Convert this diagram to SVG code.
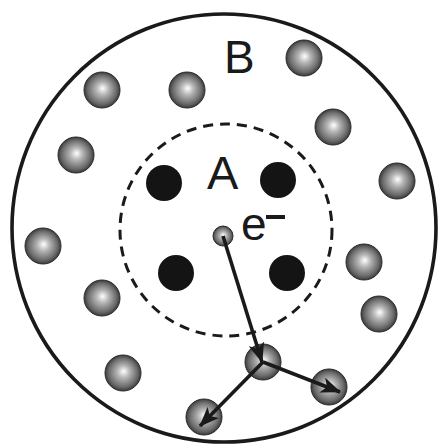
<svg xmlns="http://www.w3.org/2000/svg" width="438" height="447" viewBox="0 0 438 447">
<defs>
<radialGradient id="ball" cx="0.5" cy="0.5" r="0.5" fx="0.52" fy="0.45">
<stop offset="0" stop-color="#ffffff"/>
<stop offset="0.35" stop-color="#b4b4b4"/>
<stop offset="0.8" stop-color="#6a6a6a"/>
<stop offset="1" stop-color="#3c3c3c"/>
</radialGradient>
<marker id="arr" viewBox="0 0 20 16" refX="19" refY="8" markerWidth="20" markerHeight="16" markerUnits="userSpaceOnUse" orient="auto">
<path d="M0,0 L20,8 L0,16 L5,8 Z" fill="#1a1a1a"/>
</marker>
<style>
.ball{fill:url(#ball);stroke:#2a2a2a;stroke-width:1}
.dot{fill:#141414}
.lbl{font-family:"Liberation Sans",Arial,sans-serif;fill:#1a1a1a}
.con{stroke:#1a1a1a;stroke-width:3.6;fill:none}
</style>
</defs>
<g id="regionB">
<ellipse cx="224" cy="228" rx="212" ry="214" fill="none" stroke="#1a1a1a" stroke-width="3.6"/>
<text class="lbl" x="224" y="73" font-size="46">B</text>
</g>
<g id="regionA">
<circle cx="226" cy="230" r="106" fill="none" stroke="#1a1a1a" stroke-width="3" stroke-dasharray="10 7"/>
<text class="lbl" x="207" y="189" font-size="47">A</text>
</g>
<g id="ionsA">
<circle class="dot" cx="164" cy="183" r="18"/>
<circle class="dot" cx="278" cy="180" r="18"/>
<circle class="dot" cx="176" cy="273" r="18"/>
<circle class="dot" cx="287" cy="273" r="18"/>
</g>
<g id="atomsB">
<circle class="ball" cx="102" cy="90" r="18"/>
<circle class="ball" cx="187" cy="90" r="18"/>
<circle class="ball" cx="304" cy="58" r="18"/>
<circle class="ball" cx="333" cy="127" r="18"/>
<circle class="ball" cx="76" cy="155" r="18"/>
<circle class="ball" cx="43" cy="246" r="18"/>
<circle class="ball" cx="102" cy="298" r="18"/>
<circle class="ball" cx="397" cy="181" r="18"/>
<circle class="ball" cx="364" cy="262" r="18"/>
<circle class="ball" cx="379" cy="314" r="18"/>
<circle class="ball" cx="123" cy="373" r="18"/>
</g>
<g id="scatter">
<circle class="ball" cx="263" cy="362" r="18"/>
<circle class="ball" cx="329" cy="387" r="18"/>
<circle class="ball" cx="204" cy="417" r="18"/>
</g>
<g id="electron">
<circle class="ball" cx="223" cy="236" r="10"/>
<text class="lbl" x="241" y="240" font-size="46">e</text>
<rect x="266" y="215" width="19" height="4" fill="#1a1a1a"/>
</g>
<g id="connectors">
<line class="con" x1="223" y1="236" x2="262" y2="362" marker-end="url(#arr)"/>
<line class="con" x1="263" y1="362" x2="340" y2="392" marker-end="url(#arr)"/>
<line class="con" x1="263" y1="362" x2="200" y2="426" marker-end="url(#arr)"/>
</g>
</svg>
